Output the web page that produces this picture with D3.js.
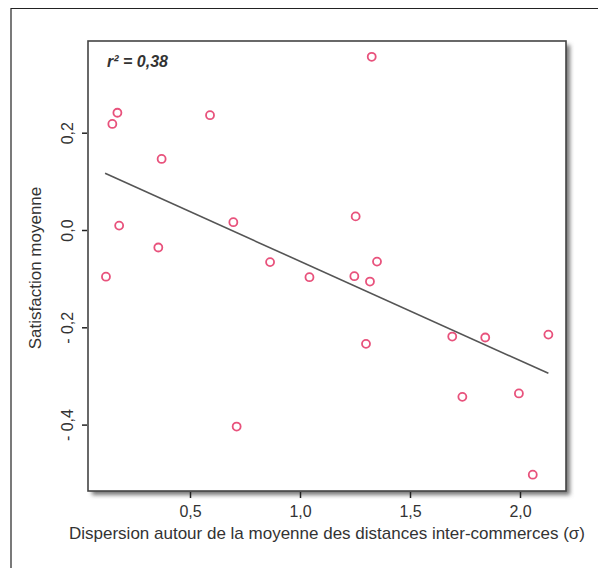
<!DOCTYPE html>
<html>
<head>
<meta charset="utf-8">
<script src="https://cdn.jsdelivr.net/npm/d3@7"></script>
<style>
  body { margin: 0; background: #fff; }
  text { font-family: "Liberation Sans", Arial, sans-serif; fill: #333; }
</style>
</head>
<body>
<svg id="chart" width="598" height="568"></svg>
<script>
// dispersion (sigma) and mean satisfaction, one entry per point
const dispersion = [0.118, 0.147, 0.17, 0.178, 0.356, 0.371, 0.591, 0.697, 0.712,
    0.864, 1.043, 1.253, 1.247, 1.326, 1.35, 1.318, 1.3, 1.692, 1.842, 2.129,
    1.738, 1.995, 2.058];
const satisfaction = [-0.096, 0.218, 0.241, 0.009, -0.036, 0.146, 0.236, 0.016, -0.404,
    -0.066, -0.097, 0.028, -0.095, 0.356, -0.065, -0.106, -0.234, -0.219, -0.221, -0.215,
    -0.343, -0.336, -0.503];
const fitRange = [0.114, 2.129];
const fitSlope = -0.204;
const fitIntercept = 0.1397;
const xTicks = [0.5, 1.0, 1.5, 2.0];
const yTicks = [0.2, 0.0, -0.2, -0.4];

// french decimals, R-style "- 0,2"
const fmt = v => d3.format('.1f')(v).replace('.', ',').replace('\u2212', '- ').replace(/^-(?! )/, '- ');
const panel = {left: 88, top: 41, right: 566, bottom: 491};

const x = d3.scaleLinear().domain([0, 0.5]).range([80, 190]);
const y = d3.scaleLinear().domain([0, 0.2]).range([230, 132.7]);

const svg = d3.select('#chart');

const defs = svg.append('defs');
defs.append('filter')
    .attr('id', 'shadow')
    .attr('x', '-5%').attr('y', '-5%').attr('width', '115%').attr('height', '115%')
    .append('feGaussianBlur')
    .attr('stdDeviation', 2);

// outer frame
svg.append('path')
    .attr('d', 'M11,568 L11,8.5 L598,8.5')
    .attr('fill', 'none')
    .attr('stroke', '#222')
    .attr('stroke-width', 1.2);

// panel shadow + panel
svg.append('rect')
    .attr('x', panel.left + 4).attr('y', panel.top + 4)
    .attr('width', panel.right - panel.left).attr('height', panel.bottom - panel.top)
    .attr('fill', '#777')
    .attr('filter', 'url(#shadow)');
svg.append('rect')
    .attr('x', panel.left).attr('y', panel.top)
    .attr('width', panel.right - panel.left).attr('height', panel.bottom - panel.top)
    .attr('fill', '#fff')
    .attr('stroke', '#444')
    .attr('stroke-width', 1.6);

// axes
const xAxis = svg.append('g')
    .attr('transform', `translate(0,${panel.bottom + 1})`)
    .call(d3.axisBottom(x).tickValues(xTicks).tickFormat(fmt).tickSize(6).tickPadding(8));
const yAxis = svg.append('g')
    .attr('transform', `translate(${panel.left - 1},0)`)
    .call(d3.axisLeft(y).tickValues(yTicks).tickFormat(fmt).tickSize(5));
[xAxis, yAxis].forEach(a => {
    a.select('.domain').remove();
    a.selectAll('line').attr('stroke', '#222').attr('stroke-width', 1.5);
    a.selectAll('text').style('font-size', '16px').attr('fill', '#444');
});
yAxis.selectAll('text')
    .attr('text-anchor', 'middle')
    .attr('dy', null)
    .attr('x', null).attr('y', null)
    .attr('transform', 'translate(-14,0) rotate(-90)');

// regression line
svg.append('line')
    .attr('x1', x(fitRange[0])).attr('y1', y(fitIntercept + fitSlope * fitRange[0]))
    .attr('x2', x(fitRange[1])).attr('y2', y(fitIntercept + fitSlope * fitRange[1]))
    .attr('stroke', '#555')
    .attr('stroke-width', 1.6);

// points
svg.append('g')
    .selectAll('circle')
    .data(dispersion)
    .enter().append('circle')
    .attr('cx', d => x(d))
    .attr('cy', (_, i) => y(satisfaction[i]))
    .attr('r', 4)
    .attr('fill', 'none')
    .attr('stroke', '#e8527c')
    .attr('stroke-width', 1.8);

// labels
svg.append('text')
    .attr('x', 107).attr('y', 67)
    .style('font-size', '16px')
    .style('font-weight', 'bold')
    .style('font-style', 'italic')
    .attr('fill', '#222')
    .text('r² = 0,38');
svg.append('text')
    .attr('x', 327).attr('y', 539)
    .attr('text-anchor', 'middle')
    .style('font-size', '17px')
    .attr('fill', '#444')
    .text('Dispersion autour de la moyenne des distances inter-commerces (σ)');
svg.append('text')
    .attr('transform', 'translate(41,268) rotate(-90)')
    .attr('text-anchor', 'middle')
    .style('font-size', '17px')
    .attr('fill', '#444')
    .text('Satisfaction moyenne');
</script>
</body>
</html>
